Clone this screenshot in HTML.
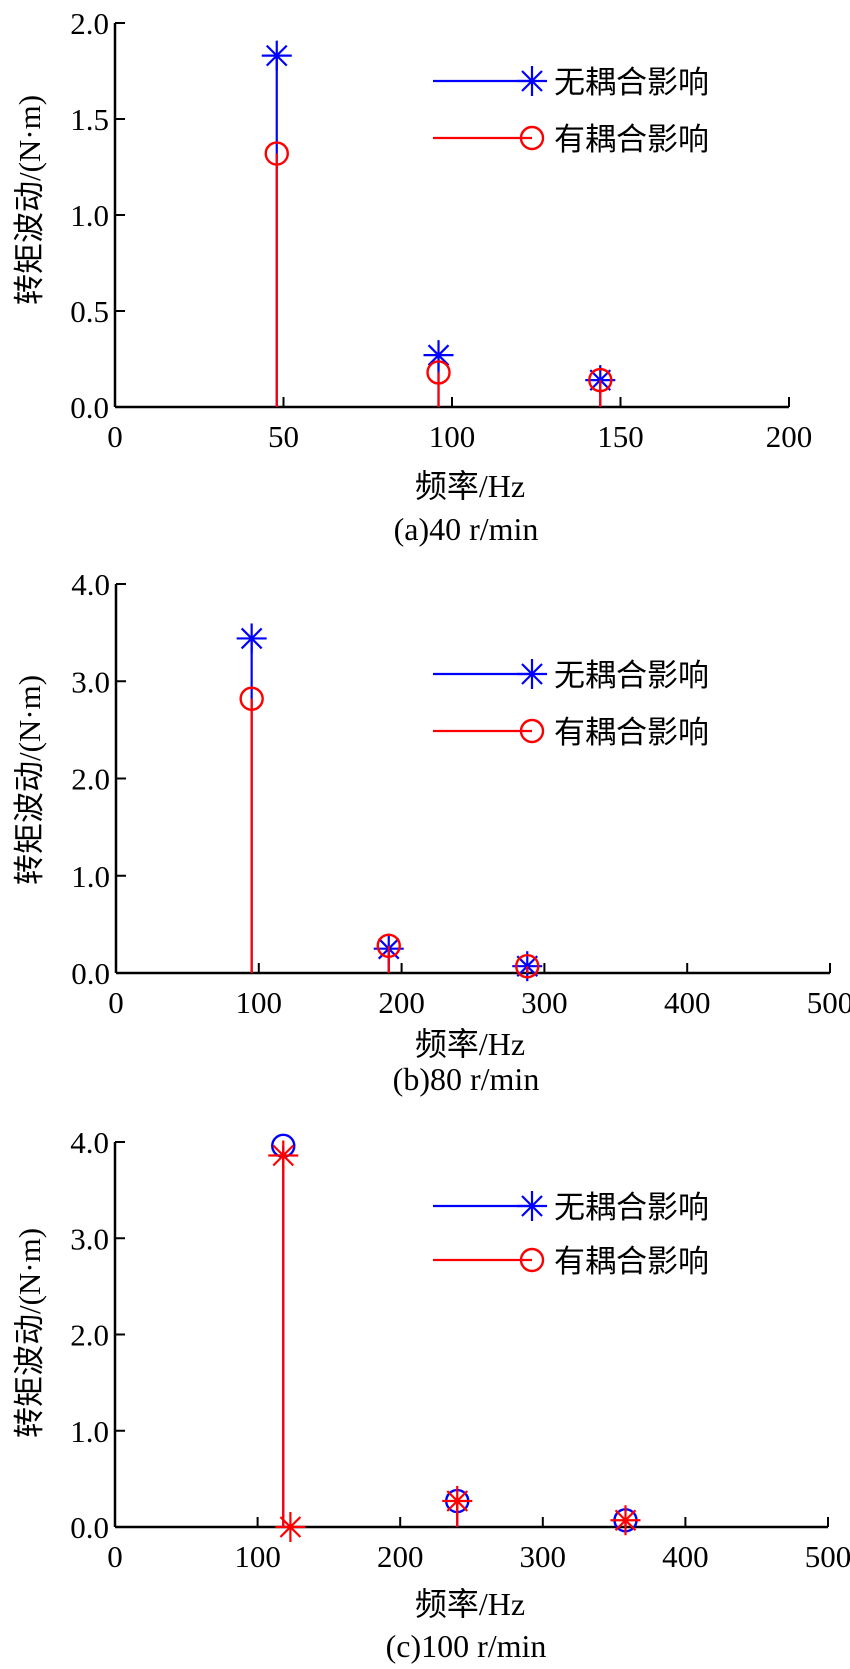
<!DOCTYPE html>
<html><head><meta charset="utf-8">
<style>
html,body{margin:0;padding:0;background:#fff;}
svg{display:block;}
text{font-family:"Liberation Serif","Noto Serif CJK SC",serif;fill:#000;}
.cjk{font-family:"Liberation Sans","Noto Sans CJK SC",sans-serif;}
</style></head>
<body>
<svg id="chart" width="850" height="1669" viewBox="0 0 850 1669" xmlns="http://www.w3.org/2000/svg"></svg>
<script>
// Panel (a) 40 r/min
const aFreq = [48, 96, 144];
const aNoCoupling = [1.83, 0.27, 0.14];
const aCoupling = [1.32, 0.18, 0.14];
const aXTicks = [0, 50, 100, 150, 200];
const aYTicks = ["0.0", "0.5", "1.0", "1.5", "2.0"];
// Panel (b) 80 r/min
const bFreq = [95, 191, 288];
const bNoCoupling = [3.44, 0.25, 0.07];
const bCoupling = [2.82, 0.28, 0.07];
const bXTicks = [0, 100, 200, 300, 400, 500];
const bYTicks = ["0.0", "1.0", "2.0", "3.0", "4.0"];
// Panel (c) 100 r/min
const cFreqBlue = [118, 240, 358];
const cBlue = [3.96, 0.27, 0.07];
const cFreqRed = [118, 240, 358, 123];
const cRed = [3.86, 0.27, 0.07, 0];
const cXTicks = [0, 100, 200, 300, 400, 500];
const cYTicks = ["0.0", "1.0", "2.0", "3.0", "4.0"];

const NS = "http://www.w3.org/2000/svg";
const svg = document.getElementById("chart");
function mk(tag, attrs, parent) {
  const e = document.createElementNS(NS, tag);
  for (const k in attrs) e.setAttribute(k, attrs[k]);
  (parent || svg).appendChild(e);
  return e;
}
function star(g, x, y, c) {
  const r = 15, d = 10;
  mk("line", {x1: x - r, y1: y, x2: x + r, y2: y, stroke: c, "stroke-width": 2.2}, g);
  mk("line", {x1: x, y1: y - r, x2: x, y2: y + r, stroke: c, "stroke-width": 2.2}, g);
  mk("line", {x1: x - d, y1: y - d, x2: x + d, y2: y + d, stroke: c, "stroke-width": 2.2}, g);
  mk("line", {x1: x - d, y1: y + d, x2: x + d, y2: y - d, stroke: c, "stroke-width": 2.2}, g);
}
function circ(g, x, y, c) {
  mk("circle", {cx: x, cy: y, r: 11, fill: "none", stroke: c, "stroke-width": 2.4}, g);
}

function panel(p) {
  const g = mk("g", {});
  
  
  const xs = v => p.x0 + (v - p.xmin) / (p.xmax - p.xmin) * (p.x1 - p.x0);
  const ys = v => p.y0 - v / p.ymax * (p.y0 - p.y1);
  const xa = mk("line", {x1: p.x0, y1: p.y0, x2: p.x1, y2: p.y0, stroke: "#000", "stroke-width": 2.5}, g);
  
  
  const ya = mk("line", {x1: p.x0, y1: p.y0, x2: p.x0, y2: p.y1, stroke: "#000", "stroke-width": 2.5}, g);
  
  
  p.xTicks.forEach(v => {
    const x = xs(v);
    mk("line", {x1: x, y1: p.y0, x2: x, y2: p.y0 - 10, stroke: "#000", "stroke-width": 2}, g);
    const t = mk("text", {x: x, y: p.y0 + 40, "text-anchor": "middle", "font-size": 31}, g);
    t.textContent = v;
    
    
  });
  const n = p.yTicks.length - 1;
  p.yTicks.forEach((lab, i) => {
    const y = ys(p.ymax * i / n);
    mk("line", {x1: p.x0, y1: y, x2: p.x0 + 10, y2: y, stroke: "#000", "stroke-width": 2}, g);
    const t = mk("text", {x: p.x0 - 6, y: y + 11, "text-anchor": "end", "font-size": 31}, g);
    t.textContent = lab;
    
    
  });
  const yt = mk("text", {x: 0, y: 0, "text-anchor": "middle", "font-size": 31,
    transform: "translate(40," + p.yTitleY + ") rotate(-90)"}, g);
  yt.innerHTML = '<tspan class="cjk">转矩波动</tspan>/(N·m)';
  
  
  const xt = mk("text", {x: 470, y: p.xTitleY, "text-anchor": "middle", "font-size": 32}, g);
  xt.innerHTML = '<tspan class="cjk">频率</tspan>/Hz';
  
  
  const cap = mk("text", {x: 466, y: p.capY, "text-anchor": "middle", "font-size": 32}, g);
  cap.textContent = p.caption;
  
  
  p.series.forEach(s => {
    const sg = mk("g", {}, g);
    
    
    s.x.forEach((fx, i) => {
      const x = xs(fx), y = ys(s.y[i]);
      const st = mk("line", {x1: x, y1: p.y0, x2: x, y2: y, stroke: s.color, "stroke-width": 2.2}, sg);
      
      
    });
    s.x.forEach((fx, i) => {
      const x = xs(fx), y = ys(s.y[i]);
      if (s.marker === "star") star(sg, x, y, s.color); else circ(sg, x, y, s.color);
    });
  });
  const lg = mk("g", {}, g);
  
  
  const entries = [["无耦合影响", "#0000ff", "star", p.legY[0]], ["有耦合影响", "#ff0000", "circle", p.legY[1]]];
  entries.forEach(e => {
    const eg = mk("g", {}, lg);
    
    
    mk("line", {x1: 433, y1: e[3], x2: 532, y2: e[3], stroke: e[1], "stroke-width": 2.2}, eg);
    if (e[2] === "star") star(eg, 532, e[3], e[1]); else circ(eg, 532, e[3], e[1]);
    const t = mk("text", {x: 554, y: e[3] + 12, "font-size": 31, class: "cjk"}, eg);
    t.textContent = e[0];
  });
}

panel({name: "panel-a-40rpm", x0: 115, x1: 789, xmin: 0, xmax: 200, y0: 407, y1: 23, ymax: 2.0,
  xTicks: aXTicks, yTicks: aYTicks, yTitleY: 200, xTitleY: 497, capY: 540, caption: "(a)40 r/min",
  legY: [81, 138],
  series: [
    {name: "series-no-coupling", x: aFreq, y: aNoCoupling, color: "#0000ff", marker: "star"},
    {name: "series-coupling", x: aFreq, y: aCoupling, color: "#ff0000", marker: "circle"}]});

panel({name: "panel-b-80rpm", x0: 116, x1: 830, xmin: 0, xmax: 500, y0: 973, y1: 584, ymax: 4.0,
  xTicks: bXTicks, yTicks: bYTicks, yTitleY: 780, xTitleY: 1055, capY: 1090, caption: "(b)80 r/min",
  legY: [674, 731],
  series: [
    {name: "series-no-coupling", x: bFreq, y: bNoCoupling, color: "#0000ff", marker: "star"},
    {name: "series-coupling", x: bFreq, y: bCoupling, color: "#ff0000", marker: "circle"}]});

panel({name: "panel-c-100rpm", x0: 115, x1: 828, xmin: 0, xmax: 500, y0: 1527, y1: 1142, ymax: 4.0,
  xTicks: cXTicks, yTicks: cYTicks, yTitleY: 1333, xTitleY: 1615, capY: 1657, caption: "(c)100 r/min",
  legY: [1206, 1260],
  series: [
    {name: "series-no-coupling", x: cFreqBlue, y: cBlue, color: "#0000ff", marker: "circle"},
    {name: "series-coupling", x: cFreqRed, y: cRed, color: "#ff0000", marker: "star"}]});
</script>
</body></html>
